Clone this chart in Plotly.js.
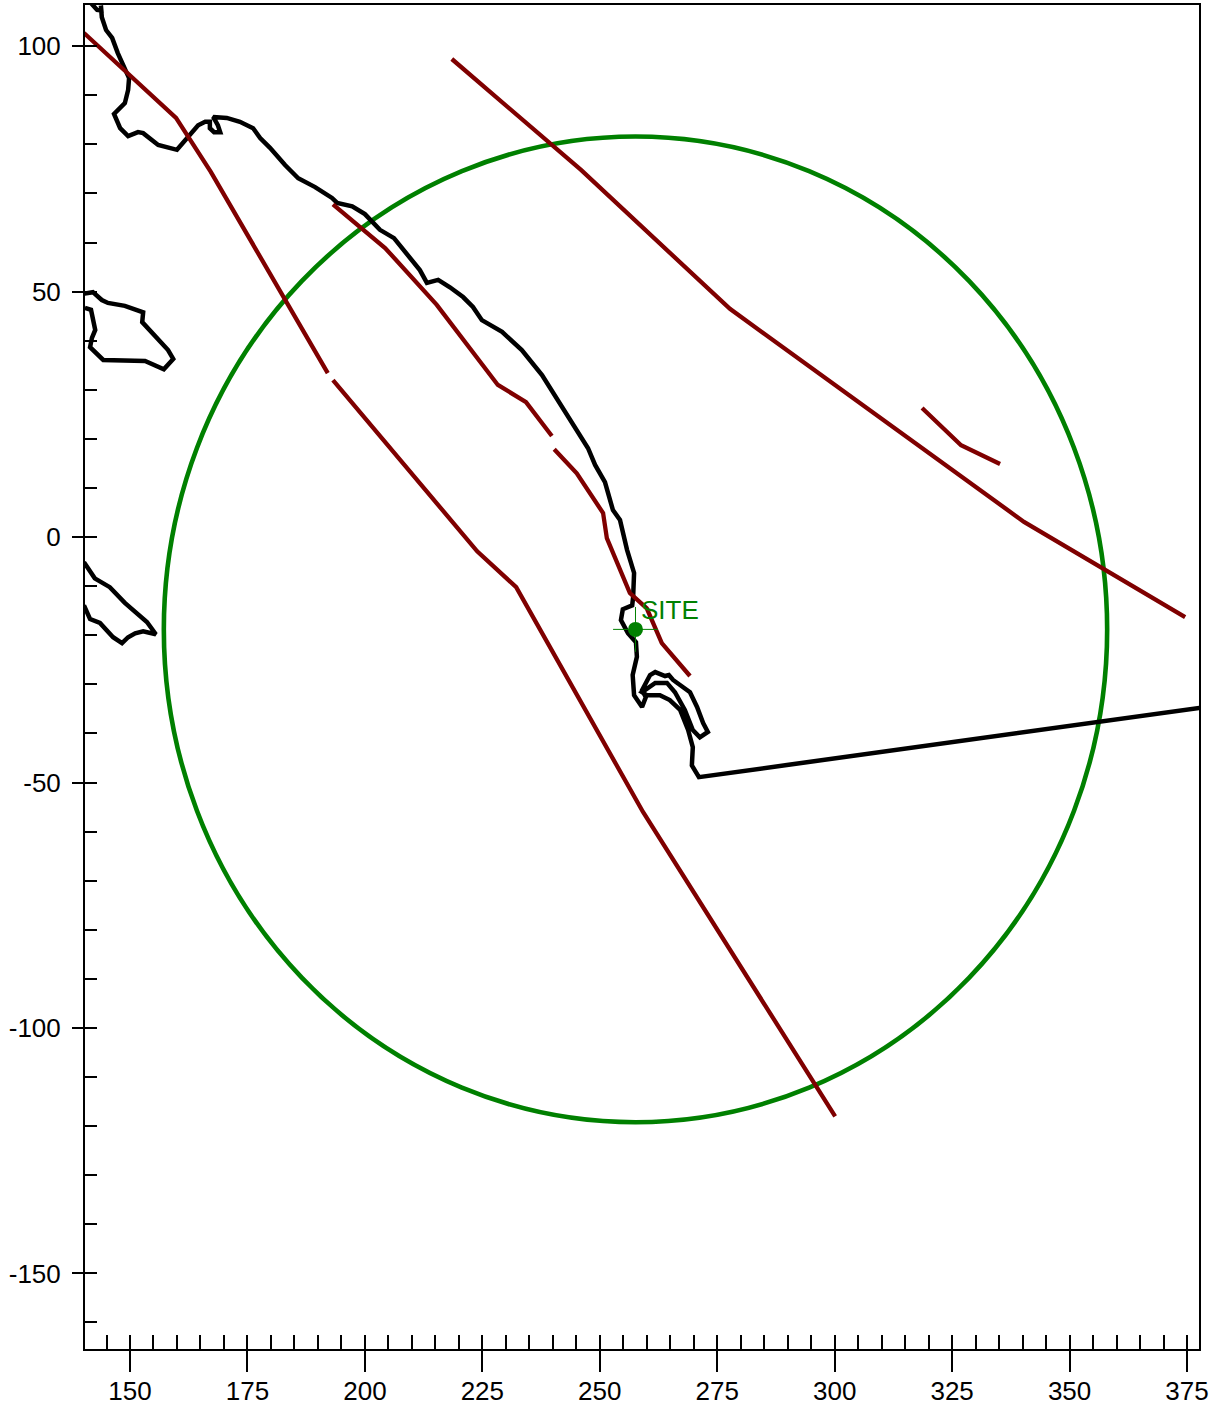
<!DOCTYPE html>
<html>
<head>
<meta charset="utf-8">
<script src="https://cdn.plot.ly/plotly-3.0.1.min.js"></script>
<style>html,body{margin:0;padding:0;background:#fff}</style>
</head>
<body>
<div id="chart" style="width:1221px;height:1410px"></div>
<script>
var coastX = [141.5,143.0,143.9,143.8,144.0,144.9,146.2,147.4,148.9,149.8,149.6,148.9,146.6,147.9,149.6,151.7,152.8,156.0,160.0,162.1,164.5,166.0,167.0,167.0,167.9,169.2,168.7,167.7,170.6,173.4,176.2,177.7,179.8,183.0,185.8,189.4,193.0,194.1,197.3,200.0,203.2,206.2,209.2,211.7,213.2,215.6,218.1,220.9,223.0,224.9,229.2,233.4,237.7,241.5,245.1,247.5,249.0,251.1,252.8,254.3,255.8,257.3,257.1,256.9,254.9,254.5,256.0,257.7,257.9,257.0,257.3,259.0,259.8,259.0,260.7,261.8,263.9,264.7,265.6,269.2,270.7,272.0,273.0,271.3,269.8,268.1,266.0,264.3,261.8,260.0,259.0,260.0,262.8,264.9,267.1,268.8,269.8,269.6,271.1,377.8];
var coastY = [109.0,107.4,107.3,108.3,105.9,103.3,101.7,98.6,95.6,93.5,91.1,88.4,86.2,83.3,81.7,82.5,82.3,79.9,78.9,81.3,83.9,84.6,84.6,83.3,82.5,82.5,83.9,85.6,85.4,84.6,83.3,81.3,79.3,75.8,73.1,71.3,69.1,68.1,67.4,65.8,62.6,60.9,57.5,54.4,51.8,52.4,50.9,48.9,46.9,44.2,41.8,38.1,33.0,27.3,21.8,18.1,14.7,11.2,5.5,3.5,-2.6,-7.3,-12.2,-13.9,-14.7,-16.9,-19.6,-21.4,-24.4,-28.1,-32.2,-34.6,-32.6,-31.2,-28.1,-27.5,-28.3,-28.1,-29.1,-31.6,-34.6,-37.9,-39.7,-40.8,-39.3,-35.2,-31.6,-29.7,-29.7,-30.8,-31.6,-32.2,-32.2,-33.2,-35.2,-39.3,-42.8,-46.5,-48.9,-34.8];

var island1X = [140.3,142.1,144.0,145.3,148.9,152.8,152.6,155.7,158.1,159.2,157.2,153.2,148.5,144.3,141.5,141.9,142.6,141.7,140.4];
var island1Y = [49.6,49.9,48.3,47.7,47.1,45.8,43.8,40.5,38.1,36.3,34.2,35.9,35.9,36.1,38.7,40.6,42.2,46.3,46.7];

var island2X = [140.2,142.5,145.7,148.9,153.6,155.5,152.8,151.1,149.6,148.3,146.4,143.6,141.5,140.2];
var island2Y = [-5.1,-8.4,-10.2,-13.4,-17.3,-19.8,-19.2,-19.6,-20.4,-21.6,-20.4,-17.5,-16.7,-13.9];

var faultAX = [140.2,159.8,167.2,192.1];
var faultAY = [102.7,85.4,74.4,33.4];
var faultBX = [193.2,223.9,232.2,259.2,300.1];
var faultBY = [32.0,-2.9,-10.2,-56.0,-118.0];
var faultCX = [193.2,204.3,215.3,228.3,234.3,239.8];
var faultCY = [67.8,58.9,47.3,31.0,27.5,20.6];
var faultDX = [240.3,245.1,250.7,251.5,256.4,260.0,263.2,269.2];
var faultDY = [17.9,13.0,4.9,-0.2,-11.4,-14.5,-21.6,-28.3];
var faultEX = [218.5,246.0,277.7,340.3,374.6];
var faultEY = [97.4,74.8,46.5,3.1,-16.3];
var faultFX = [318.6,326.9,335.2];
var faultFY = [26.3,18.7,14.9];

var siteX = [257.6];
var siteY = [-18.8];
var siteRadius = 100.4;
var siteName = 'SITE';

var xTicks = [150,175,200,225,250,275,300,325,350,375];
var xLabels = ['150','175','200','225','250','275','300','325','350','375'];
var yTicks = [100,50,0,-50,-100,-150];
var yLabels = ['100','50','0','-50','-100','-150'];

var BLACK = '#000000', RED = '#7f0000', GREEN = '#008000';
function poly(x, y, color, w) {
  return {x:x, y:y, type:'scatter', mode:'lines', hoverinfo:'skip', showlegend:false,
          line:{color:color, width:w, shape:'linear'}};
}
var traces = [
  poly(coastX, coastY, BLACK, 4.5),
  poly(island1X, island1Y, BLACK, 4.5),
  poly(island2X, island2Y, BLACK, 4.5),
  poly(faultAX, faultAY, RED, 4.3),
  poly(faultBX, faultBY, RED, 4.3),
  poly(faultCX, faultCY, RED, 4.3),
  poly(faultDX, faultDY, RED, 4.3),
  poly(faultEX, faultEY, RED, 4.3),
  poly(faultFX, faultFY, RED, 4.3),
  {x:siteX, y:siteY, type:'scatter', mode:'markers', hoverinfo:'skip', showlegend:false,
   marker:{symbol:'cross-thin', size:32, color:GREEN, line:{color:GREEN, width:1}}},
  {x:siteX, y:siteY, type:'scatter', mode:'markers', hoverinfo:'skip', showlegend:false,
   marker:{symbol:'circle', size:15, color:GREEN}},
  {x:siteX, y:siteY, xaxis:'x2', yaxis:'y2', type:'scatter', mode:'markers', hoverinfo:'skip', showlegend:false,
   marker:{size:1, opacity:0}}
];
var xRange = [140.42,377.55], yRange = [-165.4,108.4];
var tickFont = {family:'"Liberation Sans", Arial, sans-serif', size:26, color:'#000000'};
var layout = {
  width:1221, height:1410,
  margin:{l:85, r:22, t:5, b:61, pad:0},
  paper_bgcolor:'#ffffff', plot_bgcolor:'#ffffff',
  showlegend:false,
  xaxis:{range:xRange, showgrid:false, zeroline:false, showline:true, mirror:true, linecolor:'#000', linewidth:2,
         ticks:'inside', tick0:0, dtick:5, ticklen:14, tickwidth:1.5, tickcolor:'#000', showticklabels:false},
  yaxis:{range:yRange, showgrid:false, zeroline:false, showline:true, mirror:true, linecolor:'#000', linewidth:2,
         ticks:'inside', tick0:0, dtick:10, ticklen:12, tickwidth:1.5, tickcolor:'#000', showticklabels:false},
  xaxis2:{range:xRange, overlaying:'x', anchor:'y', side:'bottom', showgrid:false, zeroline:false, showline:false,
         ticks:'outside', tickmode:'array', tickvals:xTicks, ticktext:xLabels, ticklen:22, tickwidth:1.5, tickcolor:'#000', tickfont:tickFont, ticklabelstandoff:-3},
  yaxis2:{range:yRange, overlaying:'y', anchor:'x', side:'left', showgrid:false, zeroline:false, showline:false,
         ticks:'outside', tickmode:'array', tickvals:yTicks, ticktext:yLabels, ticklen:12, tickwidth:1.5, tickcolor:'#000', tickfont:tickFont, ticklabelstandoff:6},
  shapes:[{type:'circle', xref:'x', yref:'y', layer:'below',
           x0:siteX[0]-siteRadius, x1:siteX[0]+siteRadius,
           y0:siteY[0]-siteRadius, y1:siteY[0]+siteRadius,
           line:{color:GREEN, width:4.6}}],
  annotations:[{x:siteX[0]+1.0, y:siteY[0]+3.9, xref:'x', yref:'y', text:siteName, showarrow:false,
                xanchor:'left', yanchor:'middle', borderpad:0,
                font:{family:'"Liberation Sans", Arial, sans-serif', size:26, color:GREEN}}]
};
Plotly.newPlot('chart', traces, layout, {displayModeBar:false, responsive:false});
</script>
</body>
</html>
